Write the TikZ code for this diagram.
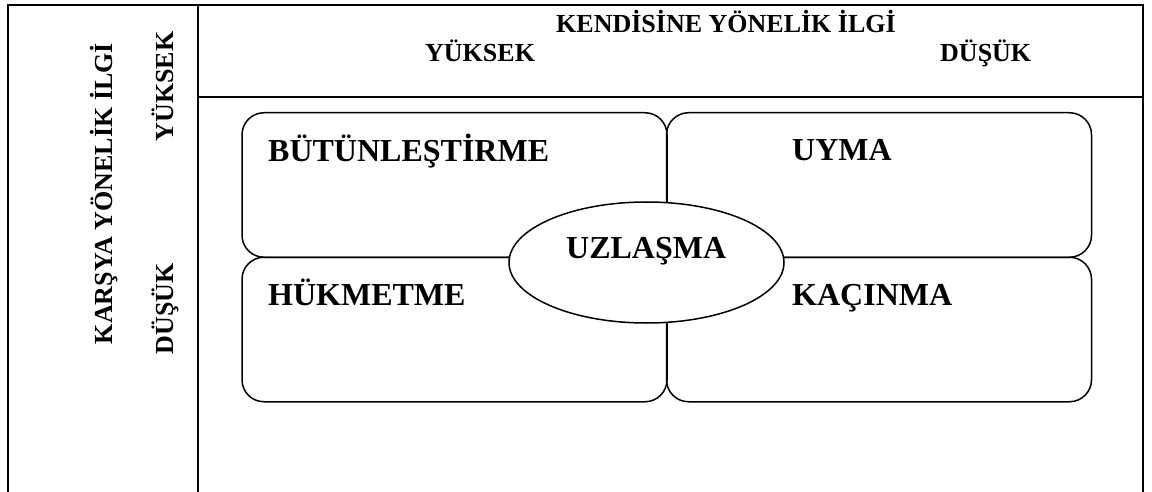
\documentclass[tikz,border=0pt]{standalone}
\usepackage{fontspec}
\setmainfont{Liberation Serif}
\usetikzlibrary{shapes.geometric}
\tikzset{
  frame/.style={line width=2pt, line cap=rect},
  quad/.style={draw, line width=1.5pt, rounded corners=22pt, inner sep=0pt, minimum width=425pt, minimum height=144.5pt},
  hdr/.style={inner sep=0pt, font=\fontsize{26}{30}\selectfont\bfseries},
  lbl/.style={inner sep=0pt, font=\fontsize{32}{36}\selectfont\bfseries, anchor=base west},
  oval/.style={draw, ellipse, line width=1.5pt, fill=white, inner sep=0pt, minimum width=275pt, minimum height=121pt}
}
\begin{document}
\begin{tikzpicture}[x=1pt,y=-1pt]
\useasboundingbox (0,0) rectangle (1152,492);
% table frame
\coordinate (tl) at (8,5);
\coordinate (tr) at (1143,5);
\coordinate (bl) at (8,492);
\coordinate (br) at (1143,492);
\coordinate (dtop) at (198,5);
\coordinate (dbot) at (198,492);
\coordinate (hl) at (198,97);
\coordinate (hr) at (1143,97);
\draw[frame] (bl) -- (tl) -- (tr) -- (br);
\draw[frame] (dtop) -- (dbot);
\draw[frame] (hl) -- (hr);
% header texts
\node[hdr, anchor=base] (title) at (726,33) {KENDİSİNE YÖNELİK İLGİ};
\node[hdr, anchor=base west] (yk) at (425,62) {YÜKSEK};
\node[hdr, anchor=base west] (dk) at (940,62) {DÜŞÜK};
\node[hdr, anchor=base, rotate=90] (side) at (112,193.5) {KARŞYA YÖNELİK İLGİ};
\node[hdr, anchor=base, rotate=90] (syk) at (173,86.5) {YÜKSEK};
\node[hdr, anchor=base, rotate=90] (sdk) at (173,309) {DÜŞÜK};
% quadrants
\node[quad] (q1) at (454.5,185) {};
\node[quad] (q2) at (879,185) {};
\node[quad] (q3) at (454.5,329.5) {};
\node[quad] (q4) at (879,329.5) {};
\node[lbl] (l1) at (268,162) {BÜTÜNLEŞTİRME};
\node[lbl] (l2) at (792,161) {UYMA};
\node[lbl] (l3) at (268,305) {HÜKMETME};
\node[lbl] (l4) at (792,305) {KAÇINMA};
% center ellipse
\node[oval] (e) at (646.5,262.5) {};
\node[lbl] (l5) at (566,258) {UZLAŞMA};
\end{tikzpicture}
\end{document}
